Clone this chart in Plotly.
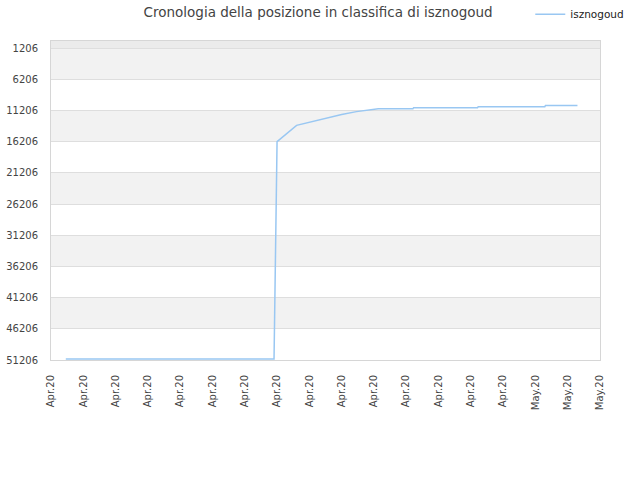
import plotly.graph_objects as go
from datetime import datetime, timedelta

# Data
times = [
    "2020-04-01 22:00", "2020-04-14 19:30", "2020-04-14 20:15", "2020-04-14 21:30",
    "2020-04-14 23:00", "2020-04-15 00:00", "2020-04-16 05:00", "2020-04-16 20:00",
    "2020-04-18 02:00", "2020-04-19 00:00", "2020-04-19 22:00", "2020-04-21 06:30",
    "2020-04-23 10:00", "2020-04-23 11:00", "2020-04-27 10:00", "2020-04-27 11:00",
    "2020-05-01 14:00", "2020-05-01 15:00", "2020-05-03 14:30",
]
positions = [
    51050, 51050, 45300, 33900,
    22200, 16200, 13600, 13200,
    12350, 11850, 11400, 10930,
    10930, 10770, 10770, 10610,
    10610, 10400, 10400,
]
series_name = "isznogoud"
title_text = "Cronologia della posizione in classifica di isznogoud"
y_ticks = [1206, 6206, 11206, 16206, 21206, 26206, 31206, 36206, 41206, 46206, 51206]
y_ticktext = [str(v) for v in y_ticks]
x_start = datetime(2020, 4, 1)
x_ticks = [x_start + timedelta(days=2 * i) for i in range(18)]

fig = go.Figure()

# alternating background bands
band_color = "#f2f2f2"
shapes = [dict(type="rect", xref="paper", yref="y", x0=0, x1=1, y0=80, y1=1206,
               fillcolor="#ebebeb", line_width=0, layer="below")]
for i in range(0, len(y_ticks) - 1, 2):
    shapes.append(dict(type="rect", xref="paper", yref="y", x0=0, x1=1,
                       y0=y_ticks[i], y1=y_ticks[i + 1],
                       fillcolor=band_color, line_width=0, layer="below"))

fig.add_trace(go.Scatter(
    x=times, y=positions, mode="lines", name=series_name,
    line=dict(color="#99c7f2", width=1.5),
))

fig.update_layout(
    width=640, height=480,
    margin=dict(l=51, r=40, t=41, b=120, autoexpand=False),
    paper_bgcolor="white", plot_bgcolor="white",
    font=dict(family="DejaVu Sans", size=10, color="#444"),
    title=dict(text=title_text, x=0.497, xanchor="center", y=0.975, yanchor="middle",
               font=dict(size=13.5, color="#444")),
    showlegend=True,
    legend=dict(x=0.873, y=1.084, xanchor="left", yanchor="middle",
                font=dict(size=10.5, color="#222"), bgcolor="rgba(0,0,0,0)"),
    shapes=shapes,
)

fig.update_xaxes(
    range=[x_ticks[0], x_ticks[-1]], automargin=False,
    tickvals=x_ticks, tickformat="%b.%y", tickangle=-90,
    showgrid=False, showline=True, linecolor="#d6d6d6", linewidth=1, mirror=True,
    ticks="", ticklabelstandoff=10, tickfont=dict(size=10, color="#444"), zeroline=False,
)
fig.update_yaxes(
    range=[51206, 80], tickvals=y_ticks, ticktext=y_ticktext, automargin=False,
    showgrid=True, gridcolor="#dedede", gridwidth=1,
    showline=True, linecolor="#d6d6d6", linewidth=1, mirror=True,
    ticks="", ticklabelstandoff=10, tickfont=dict(size=10, color="#444"), zeroline=False,
)

fig.write_html("out.html", config={"displayModeBar": False},
               post_script="document.body.style.margin='0';")
